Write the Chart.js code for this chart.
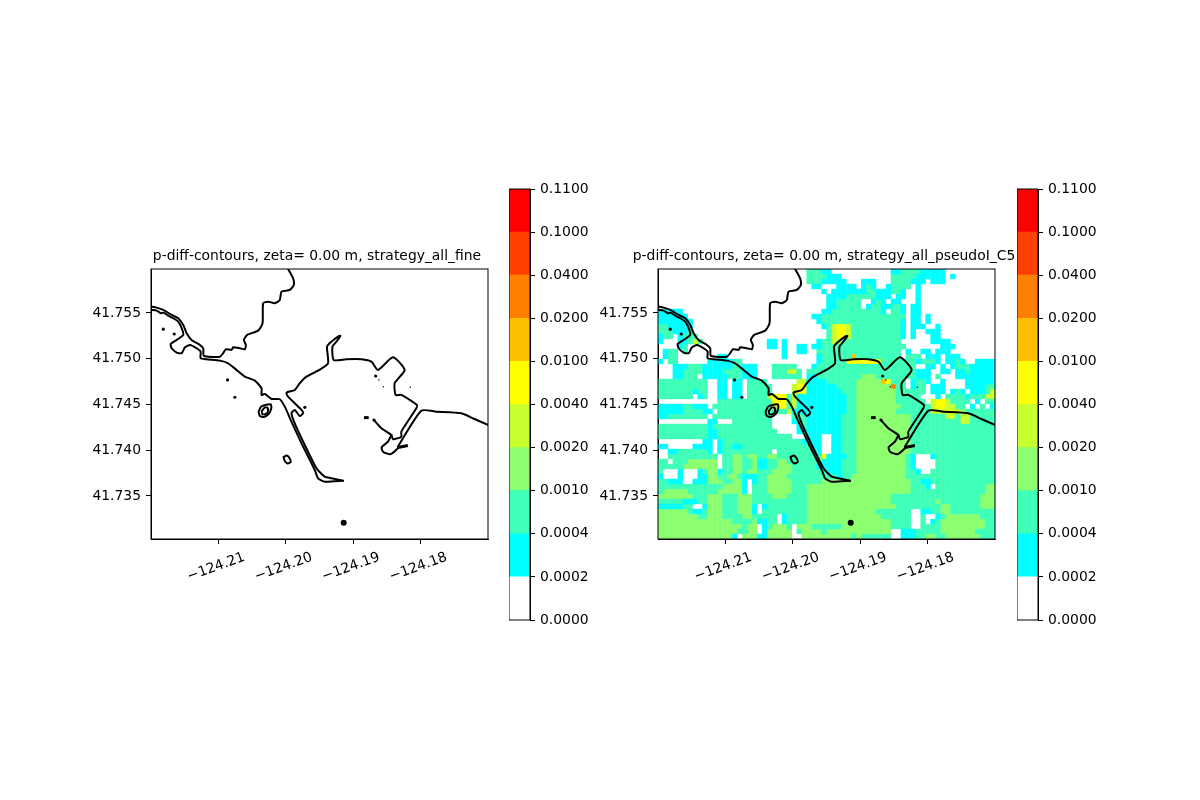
<!DOCTYPE html>
<html>
<head>
<meta charset="utf-8">
<title>p-diff-contours</title>
<script src="https://cdn.jsdelivr.net/npm/chart.js@4/dist/chart.umd.min.js"></script>
<style>
  body { margin: 0; background: #fff; }
  canvas { position: absolute; }
</style>
</head>
<body>
<canvas id="mapLeft" width="452" height="350" style="left:91px;top:249px"></canvas>
<canvas id="barLeft" width="90" height="471" style="left:509px;top:169px"></canvas>
<canvas id="mapRight" width="452" height="350" style="left:598px;top:249px"></canvas>
<canvas id="barRight" width="90" height="471" style="left:1017px;top:169px"></canvas>
<script>
// axis ticks
const lonTicks = [-124.21, -124.20, -124.19, -124.18];
const latTicks = [41.735, 41.740, 41.745, 41.750, 41.755];
const lonRange = [-124.22, -124.17];
const latRange = [41.7303, 41.7598];

// contour levels
const levelLabels = ['0.0000', '0.0002', '0.0004', '0.0010', '0.0020', '0.0040', '0.0100', '0.0200', '0.0400', '0.1000', '0.1100'];
const levelColors = ['#ffffff', '#00ffff', '#40ffb9', '#8cff70', '#c8ff2e', '#ffff00', '#ffbf00', '#ff7f00', '#ff4000', '#ff0000'];

// coast outlines, [lon, lat]
const northShore = [[-124.22000,41.75570],[-124.21916,41.75558],[-124.21818,41.75533],[-124.21693,41.75478],[-124.21596,41.75442],[-124.21521,41.75369],[-124.21471,41.75278],[-124.21397,41.75205],[-124.21274,41.75150],[-124.21225,41.75114],[-124.21215,41.75030],[-124.20978,41.75022],[-124.20929,41.75060],[-124.20889,41.75103],[-124.20804,41.75096],[-124.20781,41.75125],[-124.20681,41.75114],[-124.20607,41.75103],[-124.20593,41.75150],[-124.20622,41.75205],[-124.20573,41.75260],[-124.20410,41.75307],[-124.20345,41.75387],[-124.20336,41.75606],[-124.20262,41.75623],[-124.20163,41.75606],[-124.20089,41.75642],[-124.20064,41.75733],[-124.19941,41.75751],[-124.19881,41.75806],[-124.19892,41.75879],[-124.19966,41.75981]];
const southShore = [[-124.22000,41.75533],[-124.21916,41.75525],[-124.21856,41.75497],[-124.21818,41.75503],[-124.21719,41.75460],[-124.21670,41.75442],[-124.21596,41.75405],[-124.21545,41.75333],[-124.21521,41.75260],[-124.21619,41.75205],[-124.21708,41.75161],[-124.21693,41.75114],[-124.21619,41.75066],[-124.21545,41.75060],[-124.21496,41.75125],[-124.21422,41.75150],[-124.21323,41.75114],[-124.21264,41.75077],[-124.21264,41.75005],[-124.21175,41.74994],[-124.20978,41.74979],[-124.20855,41.74950],[-124.20730,41.74877],[-124.20607,41.74804],[-124.20459,41.74760],[-124.20360,41.74677],[-124.20360,41.74604],[-124.20311,41.74615],[-124.20212,41.74560],[-124.20089,41.74557],[-124.20015,41.74476],[-124.19916,41.74312],[-124.19767,41.74076],[-124.19570,41.73784],[-124.19521,41.73693],[-124.19422,41.73656],[-124.19151,41.73667]];
const spitAndBay = [[-124.19151,41.73667],[-124.19323,41.73693],[-124.19422,41.73711],[-124.19545,41.73803],[-124.19718,41.74057],[-124.19867,41.74294],[-124.19916,41.74404],[-124.19867,41.74440],[-124.19793,41.74374],[-124.19744,41.74404],[-124.19767,41.74440],[-124.19966,41.74585],[-124.19990,41.74629],[-124.19867,41.74658],[-124.19793,41.74732],[-124.19693,41.74804],[-124.19496,41.74880],[-124.19373,41.74950],[-124.19388,41.75132],[-124.19323,41.75186],[-124.19225,41.75241],[-124.19190,41.75249],[-124.19249,41.75186],[-124.19308,41.75132],[-124.19289,41.74986],[-124.19101,41.74994],[-124.18879,41.74994],[-124.18730,41.74968],[-124.18633,41.74877],[-124.18410,41.75016],[-124.18237,41.74877],[-124.18385,41.74732],[-124.18370,41.74604],[-124.18286,41.74604],[-124.18055,41.74494],[-124.18064,41.74458],[-124.18286,41.74203],[-124.18286,41.74148],[-124.18410,41.74120],[-124.18434,41.74167],[-124.18582,41.74240],[-124.18692,41.74330]];
const eastShore = [[-124.17000,41.74276],[-124.17200,41.74341],[-124.17397,41.74404],[-124.17767,41.74421],[-124.17990,41.74432],[-124.18336,41.74039],[-124.18336,41.74021],[-124.18449,41.73956],[-124.18558,41.73984],[-124.18578,41.74032],[-124.18484,41.74093],[-124.18434,41.74167]];
const eastSpur = [[-124.18336,41.74030],[-124.18188,41.74052]];
const shoalDash = [[-124.18840,41.74356],[-124.18770,41.74356]];
const ringOuter = [[-124.20404,41.74418],[-124.20370,41.74473],[-124.20304,41.74494],[-124.20222,41.74500],[-124.20215,41.74462],[-124.20252,41.74396],[-124.20326,41.74363],[-124.20385,41.74374],[-124.20404,41.74418]];
const ringInner = [[-124.20356,41.74429],[-124.20311,41.74467],[-124.20267,41.74462],[-124.20267,41.74418],[-124.20311,41.74391],[-124.20348,41.74396],[-124.20356,41.74429]];
const islandRing = [[-124.20034,41.73926],[-124.19985,41.73943],[-124.19941,41.73910],[-124.19926,41.73872],[-124.19970,41.73855],[-124.20015,41.73882],[-124.20034,41.73926]];

// rocks and very small islands, [lon, lat]
const tinyRocks = [[-124.18553,41.74694],[-124.18153,41.74688],[-124.18618,41.74768]];
const smallRocks = [[-124.21818,41.75322],[-124.21655,41.75270],[-124.20864,41.74768],[-124.20756,41.74579],[-124.19718,41.74469],[-124.18692,41.74330],[-124.18667,41.74811]];
const largeRocks = [[-124.19141,41.73208]];

// pressure difference, one character per cell = index into levelColors, north to south
const diffRows = [
  '0000000000 0000000000 0000000000 2221100000 0000000112 2221111100 00000000',
  '0000000000 0000000000 0000000000 2222111000 0000000222 2211111101 00000000',
  '0000000000 0000000000 0000000000 2221111100 0111000222 2111011100 00000000',
  '0000000000 0000000000 0000000000 0110001111 0121001222 2010000000 00000000',
  '0000000000 0000000000 0000000000 0001011111 1122111221 0010000000 00000000',
  '0000000000 0000000000 0000000000 0000111122 2222111011 0010000000 00000000',
  '0000000000 0000000000 0000000000 0000112222 2001210110 0010000000 00000000',
  '0000000000 0000000000 0000000000 0000112222 2012211221 0110000000 00000000',
  '1111100000 0000000000 0000000000 0001122222 2222210221 0110000000 00000000',
  '1111110000 0000000000 0000000000 0112222222 2222222222 0110100000 00000000',
  '1111111000 0000000000 0000000000 0012222222 2222222221 0110100000 00000000',
  '2211111000 0000000000 0000000000 0001245542 2222222221 0111001000 00000000',
  '2221112000 0000000000 0000000000 0000245542 2222222221 0100111000 00000000',
  '1220122200 0000000000 0000000000 0000245542 2222222221 0100011000 00000000',
  '1000112420 0000000000 0011010000 0012244222 2222222220 0000011110 00000000',
  '0000120000 0000000000 0011010011 0112222222 2222222222 0000000111 00000000',
  '0122020000 0000000000 0000010011 0022222222 2222222220 1001101110 00000000',
  '0122000000 0011000000 0000010000 0012222226 2222222220 2220111011 10000000',
  '1022000000 1111122000 0000000000 0012222255 5555522222 2212221011 21001111',
  '0001112221 1111122111 0002222200 0122222222 2222222222 2200110101 22211111',
  '0001122221 1112222111 0002224420 2222222222 2222222222 2211100110 11211111',
  '0001122201 1111222111 0002222220 1122222222 2333222222 2211102000 11111111',
  '2222222222 0011011022 2200000044 1111222222 3333365222 0122100100 00111111',
  '2222222222 0011011022 2220000455 1111112222 3333333722 0122011100 00111122',
  '2222222122 0011011022 2220000455 1111111222 3333333322 2222011101 21011124',
  '2222222012 0011011022 2245552411 1111111122 3333333322 2220001022 22122244',
  '0000000000 0022222222 2225552411 1111111122 3333333322 2222045542 22201022',
  '1111122111 0222222222 2224552411 1111111122 3333333332 2222245544 22010201',
  '1111122221 1022222222 2222224111 1111111122 3333333322 2222244444 43222222',
  '1122222222 0222222222 2220000222 1111111222 3333333333 3222222244 24422222',
  '0000000000 1100022222 2220000122 1111111222 3333333333 3222222222 24422222',
  '2222222222 1222222222 2220000012 1111111222 3333333333 3222222222 22222222',
  '2222222222 1122222222 2222000011 1111111222 3333333333 3222222222 22222222',
  '2222222222 1122222222 2222222000 1110011222 3333333333 3222222222 22222222',
  '0000000001 1012222222 2222222221 1110011222 3333333333 3222222222 22222222',
  '1100000111 1012211222 2222222222 2110011222 3333333333 3222222222 22222222',
  '0011222222 1012222222 2220222222 2210011222 3333333333 3222222222 22222222',
  '0022222222 2202233233 2233222222 2225111122 3333333333 2100012222 22222222',
  '2202223333 3302233223 1122332222 2241111222 3333333333 2100002222 22222222',
  '2222233333 3302233223 1122333222 2211111222 3333333333 2100002222 22222222',
  '2000100012 3312233233 2223333222 2222111222 3333333333 2210022222 22222222',
  '1000100011 3322332111 2233332222 2222221223 3333333333 2222222222 22222222',
  '2211100111 3332233101 2233333222 2223333333 3333333333 3221122222 22222222',
  '2222222222 2223333102 2233333222 3333333333 3333333333 3222102222 22222233',
  '2333332222 2233333102 2233333222 3333333333 3333333333 3222222222 22222233',
  '3333333222 3332223332 2223332222 3333333333 3333333222 2222222222 22222333',
  '2222211122 3332223332 2222222222 3333333333 3333333222 2222223222 22222333',
  '1111122001 3332223331 0122222222 3333333333 3333333322 2222222332 22222333',
  '3333332112 3332223331 0222222222 3333333333 3333222222 2001122332 22222222',
  '3333333322 3332222332 2222012222 3333333333 3333322222 2002001233 33333222',
  '3333333333 3333322223 1122012222 3333333333 3333333222 2002012333 33333322',
  '3333333333 3333333233 0123332033 3222222333 3333333222 2002222333 33333322',
  '3333333333 3333332233 0133333023 3332333333 3333333001 1122222333 33332222',
  '3333333333 3333310333 1133333003 3333333332 3222222001 1122332233 33333222'
];

const fontFamily = "'DejaVu Sans'";
const toXY = pairs => pairs.map(p => ({ x: p[0], y: p[1] }));

// black frame around the plot area
const framePlugin = {
  id: 'frame',
  afterDraw(chart) {
    const a = chart.chartArea;
    chart.ctx.save();
    chart.ctx.strokeStyle = '#000';
    chart.ctx.lineWidth = 1;
    chart.ctx.strokeRect(a.left, a.top, a.right - a.left, a.bottom - a.top);
    chart.ctx.restore();
  }
};

function outlineDatasets() {
  const lines = [northShore, southShore, spitAndBay, eastShore, ringOuter, ringInner, islandRing];
  const sets = lines.map(line => ({
    data: toXY(line), showLine: true, borderColor: '#000', borderWidth: 2,
    pointRadius: 0, tension: 0.2, borderJoinStyle: 'round', borderCapStyle: 'round'
  }));
  [eastSpur, shoalDash].forEach(line => {
    sets.push({ data: toXY(line), showLine: true, borderColor: '#000', borderWidth: 3, pointRadius: 0 });
  });
  [[tinyRocks, 0.7], [smallRocks, 1.6], [largeRocks, 3]].forEach(r => {
    sets.push({ data: toXY(r[0]), showLine: false, pointRadius: r[1], pointBackgroundColor: '#000', pointBorderWidth: 0 });
  });
  return sets;
}

function cellDatasets() {
  const rows = diffRows.map(r => r.replace(/ /g, ''));
  const dLon = (lonRange[1] - lonRange[0]) / rows[0].length;
  const dLat = (latRange[1] - latRange[0]) / rows.length;
  const sets = [];
  for (let level = 1; level < levelColors.length; level++) {
    const pts = [];
    rows.forEach((row, j) => {
      for (let i = 0; i < row.length; i++) {
        if (+row[i] === level) pts.push({ x: lonRange[0] + (i + 0.5) * dLon, y: latRange[1] - (j + 0.5) * dLat });
      }
    });
    sets.push({ data: pts, showLine: false, pointStyle: 'rect', pointRadius: 3.8, pointBorderWidth: 0, pointBackgroundColor: levelColors[level] });
  }
  return sets;
}

function buildMap(id, title, withCells) {
  new Chart(document.getElementById(id), {
    type: 'scatter',
    data: { datasets: outlineDatasets().concat(withCells ? cellDatasets() : []) },
    options: {
      responsive: false, maintainAspectRatio: false, animation: false, events: [], devicePixelRatio: 1,
      layout: { autoPadding: false },
      plugins: {
        legend: { display: false }, tooltip: { enabled: false },
        title: {
          display: true, text: title, color: '#000',
          font: { family: fontFamily, size: 13.9, weight: 'normal', lineHeight: 1 },
          padding: { top: 0, bottom: 6.1 }
        }
      },
      scales: {
        x: {
          min: lonRange[0], max: lonRange[1],
          afterBuildTicks: s => { s.ticks = lonTicks.map(v => ({ value: v })); },
          afterFit: s => { s.height = 60; },
          border: { color: '#000' },
          grid: { drawOnChartArea: false, tickLength: 5, tickColor: '#000' },
          ticks: {
            minRotation: 20, maxRotation: 20, labelOffset: 26, padding: 5, color: '#000', autoSkip: false,
            font: { family: fontFamily, size: 13.9 },
            callback: v => '\u2212' + Math.abs(v).toFixed(2)
          }
        },
        y: {
          min: latRange[0], max: latRange[1],
          afterBuildTicks: s => { s.ticks = latTicks.map(v => ({ value: v })); },
          afterFit: s => { s.width = 60; },
          border: { color: '#000' },
          grid: { drawOnChartArea: false, tickLength: 5, tickColor: '#000' },
          ticks: { padding: 5, color: '#000', autoSkip: false, font: { family: fontFamily, size: 13.9 }, callback: v => v.toFixed(3) }
        },
        // empty axis, keeps the title centred a little left of the plot
        yEmpty: {
          axis: 'y', position: 'right', min: latRange[0], max: latRange[1],
          afterFit: s => { s.width = 55; },
          border: { display: false }, grid: { display: false }, ticks: { display: false }
        }
      }
    },
    plugins: [framePlugin]
  });
}

function buildColorbar(id) {
  new Chart(document.getElementById(id), {
    type: 'bar',
    data: {
      labels: [''],
      datasets: levelColors.map(c => ({ data: [1], backgroundColor: c, borderWidth: 0, barPercentage: 1, categoryPercentage: 1 }))
    },
    options: {
      responsive: false, maintainAspectRatio: false, animation: false, events: [], devicePixelRatio: 1,
      layout: { autoPadding: false, padding: { top: 20, bottom: 20 } },
      plugins: { legend: { display: false }, tooltip: { enabled: false } },
      scales: {
        x: { stacked: true, display: false },
        y: {
          stacked: true, position: 'right', min: 0, max: levelColors.length,
          afterBuildTicks: s => { s.ticks = levelLabels.map((l, i) => ({ value: i })); },
          afterFit: s => { s.width = 69; },
          border: { color: '#000' },
          grid: { drawOnChartArea: false, tickLength: 5, tickColor: '#000' },
          ticks: { padding: 5, color: '#000', autoSkip: false, font: { family: fontFamily, size: 13.9 }, callback: v => levelLabels[v] }
        }
      }
    },
    plugins: [framePlugin]
  });
}

buildMap('mapLeft', 'p-diff-contours, zeta= 0.00 m, strategy_all_fine', false);
buildColorbar('barLeft');
buildMap('mapRight', 'p-diff-contours, zeta= 0.00 m, strategy_all_pseudoI_C5', true);
buildColorbar('barRight');
</script>
</body>
</html>
